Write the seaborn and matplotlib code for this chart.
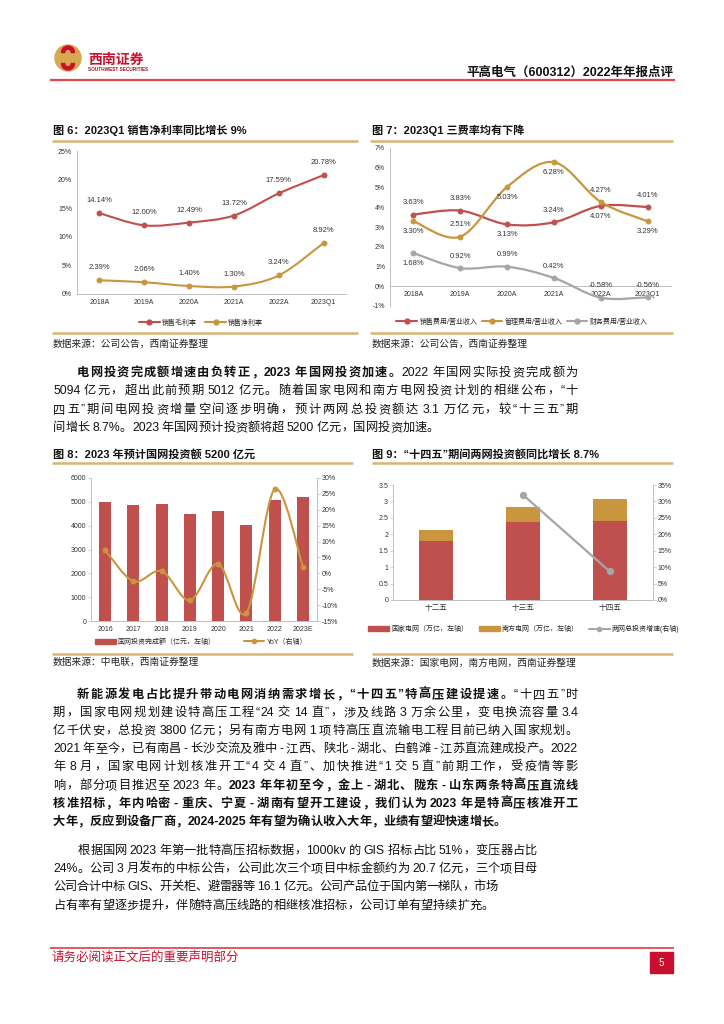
import re
import numpy as np
import matplotlib
matplotlib.use("Agg")
import matplotlib.pyplot as plt
import seaborn as sns
from matplotlib.path import Path
from matplotlib.patches import PathPatch, Rectangle, Circle, Wedge, Patch
from matplotlib.lines import Line2D
from matplotlib.ticker import FuncFormatter

# -----------------------------
# Chart data
# -----------------------------
years6 = ["2018A", "2019A", "2020A", "2021A", "2022A", "2023Q1"]
gross_margin = [14.14, 12.00, 12.49, 13.72, 17.59, 20.78]
net_margin = [2.39, 2.06, 1.40, 1.30, 3.24, 8.92]

sell_rate = [3.63, 3.83, 3.13, 3.24, 4.07, 4.01]
admin_rate = [3.30, 2.51, 5.03, 6.28, 4.27, 3.29]
fin_rate = [1.68, 0.92, 0.99, 0.42, -0.58, -0.56]

years8 = ["2016", "2017", "2018", "2019", "2020", "2021", "2022", "2023E"]
grid_invest = [4977, 4854, 4889, 4473, 4605, 4030, 5094, 5200]
grid_yoy = [7.3, -2.5, 0.7, -8.5, 3.0, -12.5, 26.4, 2.1]

plans = ["十二五", "十三五", "十四五"]
state_grid = [1.80, 2.38, 2.40]
south_grid = [0.34, 0.45, 0.67]
growth_plans = ["十三五", "十四五"]
total_growth = [32.0, 8.7]

# label side for fig 7 (1 above the point, -1 below)
sell_side = [1, 1, -1, 1, -1, 1]
admin_side = [-1, 1, -1, -1, 1, -1]
fin_side = [-1, 1, 1, 1, 1, 1]

# -----------------------------
# Style
# -----------------------------
RED = "#C0504D"
GOLD = "#C9963F"
GRAY = "#A6A6A6"
AXIS = "#BFBFBF"
TLINE = "#D9B574"
HRED = "#E0464C"
FRED = "#C8102E"
LBL = "#333333"

sns.set_theme(style="white")
plt.rcParams["font.family"] = ["Liberation Sans", "Noto Sans CJK SC", "DejaVu Sans"]
plt.rcParams["axes.unicode_minus"] = False

W, H = 724, 1024
fig = plt.figure(figsize=(W / 100, H / 100), dpi=100)
page = fig.add_axes([0, 0, 1, 1])
page.set_xlim(0, W)
page.set_ylim(H, 0)
page.axis("off")
renderer = fig.canvas.get_renderer()


def box(l, t, r, b):
    ax = fig.add_axes([l / W, 1 - b / H, (r - l) / W, (b - t) / H])
    ax.set_facecolor("none")
    return ax


def hline(y, x0, x1, color, lw):
    page.plot([x0, x1], [y, y], color=color, lw=lw, solid_capstyle="butt")


def smooth_path(xs, ys):
    # excel style smoothed line: catmull-rom through the points as bezier
    pts = np.column_stack([xs, ys]).astype(float)
    verts = [pts[0]]
    codes = [Path.MOVETO]
    n = len(pts)
    for i in range(n - 1):
        p0 = pts[max(i - 1, 0)]
        p1 = pts[i]
        p2 = pts[i + 1]
        p3 = pts[min(i + 2, n - 1)]
        verts += [p1 + (p2 - p0) / 6, p2 - (p3 - p1) / 6, p2]
        codes += [Path.CURVE4] * 3
    return Path(verts, codes)


def style_axes(ax, spines=("left", "bottom")):
    for s in ["left", "right", "top", "bottom"]:
        ax.spines[s].set_visible(s in spines)
        ax.spines[s].set_color(AXIS)
        ax.spines[s].set_linewidth(0.7)
    ax.tick_params(axis="y", labelsize=5, length=2, width=0.5, color=AXIS,
                   pad=1.5, labelcolor=LBL)
    ax.tick_params(axis="x", labelsize=5, length=0, pad=3.5, labelcolor=LBL)
    ax.set_xlabel("")
    ax.set_ylabel("")


def legend_at(ax, handles, labels, cx, cy, colsp=1.2):
    ax.legend(handles, labels, loc="center", bbox_to_anchor=(cx / W, 1 - cy / H),
              bbox_transform=fig.transFigure, ncol=len(handles), frameon=False,
              fontsize=5, handlelength=3, handletextpad=0.3, columnspacing=colsp)


def line_handle(c):
    return Line2D([], [], color=c, lw=1.5, marker="o", ms=3.5)


pct = FuncFormatter(lambda v, p: f"{v:.0f}%")

# -----------------------------
# Body text (justified lines)
# -----------------------------
BODY_FS = 8.8
PUNCT = "，。；：、“”（）"


def body_line(segs, y, x0, x1=None):
    items = []
    for s, bold in segs:
        for tok in re.findall(r"[A-Za-z0-9.%\-]+|\S", s):
            t = page.text(0, y, tok, fontsize=BODY_FS, ha="left", va="center",
                          fontweight="bold" if bold else "normal", color="#111111")
            w = t.get_window_extent(renderer).width
            items.append((t, w, tok))
    gaps = []
    for a, b in zip(items[:-1], items[1:]):
        aa, ba = a[2].isascii(), b[2].isascii()
        if aa != ba and a[2] not in PUNCT and b[2] not in PUNCT:
            gaps.append(2.5)
        else:
            gaps.append(0.0)
    extra = 0.0
    if x1 is not None and len(items) > 1:
        extra = (x1 - x0 - sum(i[1] for i in items) - sum(gaps)) / (len(items) - 1)
    x = x0
    for k, (t, w, _) in enumerate(items):
        t.set_x(x)
        if k < len(gaps):
            x += w + gaps[k] + extra


# header
page.add_patch(Circle((68, 58), 13, color="#D6A84F"))
page.add_patch(Wedge((68, 52.5), 6.5, 180, 360, width=3.2, color=FRED))
page.add_patch(Wedge((68, 63.5), 6.5, 0, 180, width=3.2, color=FRED))
page.text(88, 60, "西南证券", fontsize=10, fontweight="bold", color=FRED, va="center")
page.text(88, 69.5, "SOUTHWEST SECURITIES", fontsize=3.4, fontweight="bold", color="#A0141E", va="center")
page.text(673, 73, "平高电气（600312）2022年年报点评", fontsize=9, fontweight="bold",
          ha="right", va="center", color="#111111")
hline(80, 50, 675, HRED, 1.6)

# titles / rules / sources
for x, y, s in [(53, 130, "图 6：2023Q1 销售净利率同比增长 9%"),
                (372, 130, "图 7：2023Q1 三费率均有下降"),
                (53, 454, "图 8：2023 年预计国网投资额 5200 亿元"),
                (372, 454, "图 9：“十四五”期间两网投资额同比增长 8.7%")]:
    page.text(x, y, s, fontsize=8, fontweight="bold", va="center", color="#111111")
for y in [141, 333]:
    hline(y, 52, 358, TLINE, 1.8)
    hline(y, 370, 673, TLINE, 1.8)
for y in [463, 654]:
    hline(y, 52, 353, TLINE, 1.8)
    hline(y, 372, 673, TLINE, 1.8)
for x, y, s in [(53, 344, "数据来源：公司公告，西南证券整理"),
                (372, 344, "数据来源：公司公告，西南证券整理"),
                (53, 662, "数据来源：中电联，西南证券整理"),
                (372, 663, "数据来源：国家电网，南方电网，西南证券整理")]:
    page.text(x, y, s, fontsize=7, va="center", color="#222222")

# paragraph 1
R1 = 578
body_line([("电网投资完成额增速由负转正，2023年国网投资加速。", True),
           ("2022年国网实际投资完成额为", False)], 373, 77, R1)
body_line([("5094亿元，超出此前预期5012亿元。随着国家电网和南方电网投资计划的相继公布，“十", False)], 391, 53, R1)
body_line([("四五”期间电网投资增量空间逐步明确，预计两网总投资额达3.1万亿元，较“十三五”期", False)], 410, 53, R1)
body_line([("间增长8.7%。2023年国网预计投资额将超5200亿元，国网投资加速。", False)], 428, 53)

# paragraph 2
body_line([("新能源发电占比提升带动电网消纳需求增长，“十四五”特高压建设提速。", True),
           ("“十四五”时", False)], 695, 77, R1)
body_line([("期，国家电网规划建设特高压工程“24交14直”，涉及线路3万余公里，变电换流容量3.4", False)], 713, 53, R1)
body_line([("亿千伏安，总投资3800亿元；另有南方电网1项特高压直流输电工程目前已纳入国家规划。", False)], 731, 53, R1)
body_line([("2021年至今，已有南昌-长沙交流及雅中-江西、陕北-湖北、白鹤滩-江苏直流建成投产。2022", False)], 749, 53, R1)
body_line([("年8月，国家电网计划核准开工“4交4直”、加快推进“1交5直”前期工作，受疫情等影", False)], 767, 53, R1)
body_line([("响，部分项目推迟至2023年。", False),
           ("2023年年初至今，金上-湖北、陇东-山东两条特高压直流线", True)], 786, 53, R1)
body_line([("核准招标，年内哈密-重庆、宁夏-湖南有望开工建设，我们认为2023年是特高压核准开工", True)], 804, 53, R1)
body_line([("大年，反应到设备厂商，2024-2025年有望为确认收入大年，业绩有望迎快速增长。", True)], 822, 53)

# paragraph 3
R3 = 537
body_line([("根据国网2023年第一批特高压招标数据，1000kv的GIS招标占比51%，变压器占比", False)], 851, 78, R3)
body_line([("24%。公司3月发布的中标公告，公司此次三个项目中标金额约为20.7亿元，三个项目母", False)], 869, 53, R3)
body_line([("公司合计中标GIS、开关柜、避雷器等16.1亿元。公司产品位于国内第一梯队，市场", False)], 887, 53, 498)
body_line([("占有率有望逐步提升，伴随特高压线路的相继核准招标，公司订单有望持续扩充。", False)], 906, 53)

# footer
hline(948, 50, 674, "#E03A44", 1.2)
page.text(52, 958, "请务必阅读正文后的重要声明部分", fontsize=9, color=FRED, va="center")
page.add_patch(Rectangle((650, 952), 23, 21, color=FRED))
page.text(661.5, 962.5, "5", fontsize=7, color="white", ha="center", va="center")

# -----------------------------
# Fig 6: margins
# -----------------------------
ax6 = box(77, 151, 346, 294)
x6 = np.arange(len(years6))
for vals, col in [(gross_margin, RED), (net_margin, GOLD)]:
    ax6.add_patch(PathPatch(smooth_path(x6, vals), fill=False, ec=col, lw=1.5, zorder=3))
    sns.scatterplot(x=x6, y=vals, ax=ax6, color=col, s=14, edgecolor=col,
                    linewidth=0.5, zorder=4, legend=False)
    for i, v in enumerate(vals):
        ax6.annotate(f"{v:.2f}%", (i, v), xytext=(0, 9), textcoords="offset points",
                     ha="center", va="center", fontsize=5.5, color=LBL)
ax6.set_xlim(-0.5, len(years6) - 0.5)
ax6.set_ylim(0, 25)
ax6.set_yticks(range(0, 26, 5))
ax6.yaxis.set_major_formatter(pct)
ax6.set_xticks(x6)
ax6.set_xticklabels(years6)
style_axes(ax6)
legend_at(ax6, [line_handle(RED), line_handle(GOLD)], ["销售毛利率", "销售净利率"], 201, 323)

# -----------------------------
# Fig 7: expense ratios
# -----------------------------
ax7 = box(390, 148, 671, 306)
for vals, col, side in [(sell_rate, RED, sell_side), (admin_rate, GOLD, admin_side),
                        (fin_rate, GRAY, fin_side)]:
    ax7.add_patch(PathPatch(smooth_path(x6, vals), fill=False, ec=col, lw=1.6, zorder=3))
    sns.scatterplot(x=x6, y=vals, ax=ax7, color=col, s=14, edgecolor=col,
                    linewidth=0.5, zorder=4, legend=False)
    for i, (v, sd) in enumerate(zip(vals, side)):
        ax7.annotate(f"{v:.2f}%", (i, v), xytext=(0, 8.5 if sd > 0 else -7.5),
                     textcoords="offset points", ha="center", va="center",
                     fontsize=5.5, color=LBL, zorder=5)
ax7.set_xlim(-0.5, len(years6) - 0.5)
ax7.set_ylim(-1, 7)
ax7.set_yticks(range(-1, 8))
ax7.yaxis.set_major_formatter(pct)
ax7.set_xticks(x6)
ax7.set_xticklabels(years6)
style_axes(ax7)
ax7.spines["bottom"].set_position(("data", 0))
legend_at(ax7, [line_handle(RED), line_handle(GOLD), line_handle(GRAY)],
          ["销售费用/营业收入", "管理费用/营业收入", "财务费用/营业收入"], 522, 322, colsp=0.6)

# -----------------------------
# Fig 8: state grid investment
# -----------------------------
ax8 = box(91, 478, 317, 621)
sns.barplot(x=years8, y=grid_invest, ax=ax8, color=RED, width=0.42, saturation=1, linewidth=0)
ax8.set_ylim(0, 6000)
ax8.set_yticks(range(0, 6001, 1000))
style_axes(ax8)
ax8b = ax8.twinx()
x8 = np.arange(len(years8))
ax8b.add_patch(PathPatch(smooth_path(x8, grid_yoy), fill=False, ec=GOLD, lw=1.5, zorder=3))
sns.scatterplot(x=x8, y=grid_yoy, ax=ax8b, color=GOLD, s=14, edgecolor=GOLD,
                linewidth=0.5, zorder=4, legend=False)
ax8b.set_ylim(-15, 30)
ax8b.set_yticks(range(-15, 31, 5))
ax8b.yaxis.set_major_formatter(pct)
style_axes(ax8b, spines=("right",))
ax8.set_xlim(-0.5, len(years8) - 0.5)
legend_at(ax8b, [Patch(color=RED), Line2D([], [], color=GOLD, lw=1.5, marker="o", ms=3)],
          ["国网投资完成额（亿元，左轴）", "YoY（右轴）"], 201, 642, colsp=4)

# -----------------------------
# Fig 9: two grids, five-year plans
# -----------------------------
ax9 = box(393, 485, 653, 600)
totals = [s + n for s, n in zip(state_grid, south_grid)]
sns.barplot(x=plans, y=totals, ax=ax9, color=GOLD, width=0.39, saturation=1, linewidth=0)
sns.barplot(x=plans, y=state_grid, ax=ax9, color=RED, width=0.39, saturation=1, linewidth=0)
ax9.set_ylim(0, 3.5)
ax9.set_yticks(np.arange(0, 3.51, 0.5))
ax9.yaxis.set_major_formatter(FuncFormatter(lambda v, p: f"{v:g}"))
style_axes(ax9)
ax9.tick_params(axis="x", labelsize=5.5)
ax9b = ax9.twinx()
sns.lineplot(x=[plans.index(p) for p in growth_plans], y=total_growth, ax=ax9b, color=GRAY,
             lw=1.6, marker="o", markersize=4.5, markeredgecolor=GRAY, legend=False)
ax9b.set_ylim(0, 35)
ax9b.set_yticks(range(0, 36, 5))
ax9b.yaxis.set_major_formatter(pct)
style_axes(ax9b, spines=("right",))
ax9.set_xlim(-0.5, len(plans) - 0.5)
legend_at(ax9b, [Patch(color=RED), Patch(color=GOLD),
                 Line2D([], [], color=GRAY, lw=1.5, marker="o", ms=3)],
          ["国家电网（万亿，左轴）", "南方电网（万亿，左轴）", "两网总投资增速(右轴)"], 524, 629, colsp=1.5)

fig.savefig("out.png", dpi=100)
